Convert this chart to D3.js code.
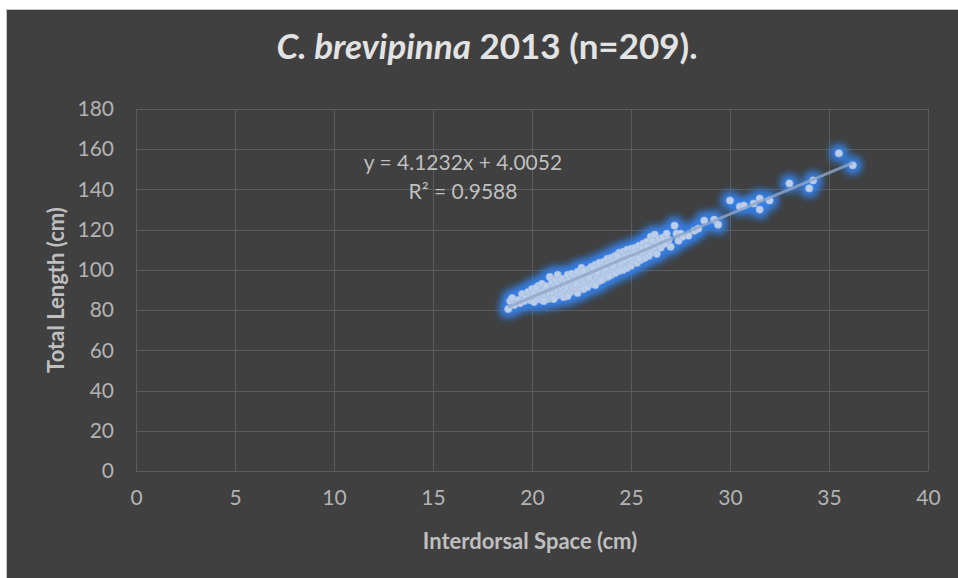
<!DOCTYPE html>
<html><head><meta charset="utf-8">
<script src="https://cdn.jsdelivr.net/npm/d3@7"></script>
<style>html,body{margin:0;padding:0;background:#fff;}svg{display:block;}</style>
</head><body>
<svg id="chart" width="958" height="578"></svg>
<script>
const titleItalic = "C. brevipinna";
const titleRest = " 2013 (n=209).";
const xAxisTitle = "Interdorsal Space (cm)";
const yAxisTitle = "Total Length (cm)";
const xTicks = [0, 5, 10, 15, 20, 25, 30, 35, 40];
const yTicks = [0, 20, 40, 60, 80, 100, 120, 140, 160, 180];
const trendSlope = 4.1232;
const trendIntercept = 4.0052;
const equationLines = ["y = 4.1232x + 4.0052", "R² = 0.9588"];
// [interdorsal space (cm), total length (cm)]
const measurements = [
[18.8,80.5],[18.9,84.5],[19.0,86.0],[19.1,82.5],[19.3,85.0],[19.4,83.5],[19.5,88.0],[19.6,84.5],[19.7,86.5],[19.8,89.0],
[19.9,85.0],[19.9,87.5],[20.0,90.5],[20.0,86.0],[20.1,84.0],[20.1,88.5],[20.2,86.5],[20.3,92.0],[20.3,85.5],[20.4,89.5],
[20.4,87.0],[20.5,93.0],[20.5,85.0],[20.6,88.0],[20.6,90.5],[20.7,86.5],[20.7,92.0],[20.8,89.0],[20.8,85.5],[20.9,96.5],
[20.9,88.0],[21.0,90.0],[21.0,86.0],[21.0,93.5],[21.1,88.5],[21.1,91.5],[21.2,87.0],[21.2,95.0],[21.3,89.5],[21.3,97.5],
[21.4,92.0],[21.4,87.5],[21.5,90.5],[21.5,95.5],[21.5,88.0],[21.6,92.5],[21.6,86.5],[21.7,94.0],[21.7,89.5],[21.8,97.5],
[21.8,91.0],[21.9,88.5],[21.9,95.0],[22.0,92.0],[22.0,98.0],[22.0,89.5],[22.1,94.5],[22.1,91.0],[22.2,96.5],[22.2,90.0],
[22.3,99.0],[22.3,93.5],[22.3,88.5],[22.4,95.5],[22.4,91.5],[22.5,101.0],[22.5,97.0],[22.5,93.0],[22.6,95.0],[22.6,90.5],
[22.7,98.5],[22.7,93.5],[22.8,100.0],[22.8,96.0],[22.8,91.5],[22.9,94.5],[22.9,98.0],[23.0,101.5],[23.0,96.5],[23.0,93.0],
[23.1,99.0],[23.1,94.5],[23.2,97.5],[23.2,102.5],[23.2,92.5],[23.3,100.5],[23.3,96.0],[23.4,98.5],[23.4,103.5],[23.4,94.5],
[23.5,101.0],[23.5,97.0],[23.6,99.5],[23.6,104.0],[23.6,95.5],[23.7,102.0],[23.7,98.0],[23.8,105.5],[23.8,100.5],[23.8,96.5],
[23.9,103.0],[23.9,99.0],[24.0,106.0],[24.0,101.5],[24.0,97.5],[24.1,104.0],[24.1,100.0],[24.2,107.0],[24.2,102.5],[24.2,98.5],
[24.3,105.0],[24.3,101.0],[24.4,108.5],[24.4,103.5],[24.4,99.5],[24.5,106.0],[24.5,101.5],[24.6,109.0],[24.6,104.5],[24.6,100.0],
[24.7,107.0],[24.7,102.5],[24.8,110.0],[24.8,105.0],[24.8,101.0],[24.9,108.0],[24.9,103.5],[25.0,110.5],[25.0,106.5],[25.0,102.0],
[25.1,108.5],[25.1,104.5],[25.2,111.0],[25.2,106.0],[25.3,109.0],[25.3,103.5],[25.4,112.0],[25.4,107.5],[25.5,110.0],[25.5,105.0],
[25.6,113.0],[25.6,108.0],[25.7,110.5],[25.7,106.0],[25.8,114.0],[25.8,109.0],[25.9,111.5],[25.9,107.0],[26.0,116.5],[26.0,112.5],
[26.0,108.5],[26.1,110.0],[26.1,114.5],[26.2,117.5],[26.2,111.5],[26.3,113.0],[26.3,108.0],[26.4,115.5],[26.5,111.0],[26.6,116.0],
[26.7,113.0],[26.8,118.0],[26.9,115.0],[27.0,111.5],[27.2,122.0],[27.3,118.0],[27.4,114.5],[27.5,118.0],[27.6,116.5],[27.9,117.0],
[28.2,119.5],[28.4,120.5],[28.7,124.5],[29.2,125.0],[29.4,122.5],[30.0,134.5],[30.5,131.5],[30.7,132.0],[31.2,133.0],[31.5,135.5],
[31.5,130.0],[32.0,134.5],[33.0,143.0],[34.0,140.5],[34.2,144.5],[35.5,158.0],[36.2,152.0],[20.2,91.0],[20.6,84.5],[21.1,85.5],
[21.3,92.5],[21.8,87.0],[22.2,93.0],[22.6,99.5],[22.9,96.0],[23.1,101.0],[23.3,98.5],[23.5,95.0],[23.7,100.5],[23.9,97.0],
[24.1,102.0],[24.3,107.0],[24.5,103.5],[24.7,105.0],[24.9,106.0],[25.2,108.5],[25.4,105.5],[25.6,110.5],[25.8,111.5]
];

const FONT = "Lato, 'Open Sans', sans-serif";
const svg = d3.select("#chart");
const W = 958, H = 578;
const plot = {left: 136, right: 928, top: 109, bottom: 471};

svg.append("rect").attr("x", 6.5).attr("y", 9.5).attr("width", W - 6).attr("height", H - 9)
  .attr("fill", "#404040").attr("stroke", "#c4c4c4").attr("stroke-width", 1);

const defs = svg.append("defs");
const f = defs.append("filter").attr("id", "glow").attr("x", "-15%").attr("y", "-15%").attr("width", "130%").attr("height", "130%");
f.append("feMorphology").attr("in", "SourceAlpha").attr("operator", "dilate").attr("radius", 2.5).attr("result", "d");
f.append("feGaussianBlur").attr("in", "d").attr("stdDeviation", 4.5).attr("result", "b");
f.append("feFlood").attr("flood-color", "#3580e6").attr("flood-opacity", 1);
f.append("feComposite").attr("in2", "b").attr("operator", "in").attr("result", "g");
const fm = f.append("feMerge");
fm.append("feMergeNode").attr("in", "g");
fm.append("feMergeNode").attr("in", "g");
fm.append("feMergeNode").attr("in", "SourceGraphic");

const x = d3.scaleLinear().domain([0, 40]).range([plot.left, plot.right]);
const y = d3.scaleLinear().domain([0, 180]).range([plot.bottom, plot.top]);

const gx = svg.append("g").attr("transform", `translate(0,${plot.bottom})`)
  .call(d3.axisBottom(x).tickValues(xTicks).tickSize(-(plot.bottom - plot.top)).tickFormat(d3.format("d")).tickPadding(19));
const gy = svg.append("g").attr("transform", `translate(${plot.left},0)`)
  .call(d3.axisLeft(y).tickValues(yTicks).tickSize(-(plot.right - plot.left)).tickFormat(d3.format("d")).tickPadding(22));
[gx, gy].forEach(g => {
  g.select(".domain").remove();
  g.selectAll(".tick line").attr("stroke", "#5c5c5c").attr("stroke-width", 1).attr("shape-rendering", "crispEdges");
  g.selectAll(".tick text").attr("fill", "#b3b3b3").style("font-family", FONT).style("font-size", "21px");
});

const pts = svg.append("g").attr("filter", "url(#glow)");
pts.selectAll("circle").data(measurements).join("circle")
  .attr("cx", d => x(d[0])).attr("cy", d => y(d[1])).attr("r", 3.6)
  .attr("fill", "#bccfea").attr("stroke", "#9fb8de").attr("stroke-width", 0.6);

const xMin = d3.min(measurements, d => d[0]), xMax = d3.max(measurements, d => d[0]);
svg.append("line")
  .attr("x1", x(xMin)).attr("y1", y(trendSlope * xMin + trendIntercept))
  .attr("x2", x(xMax)).attr("y2", y(trendSlope * xMax + trendIntercept))
  .attr("stroke", "#8ea6c8").attr("stroke-opacity", 0.8).attr("stroke-width", 3);

svg.append("text").attr("x", 463).attr("y", 170).attr("text-anchor", "middle")
  .attr("fill", "#bfbfbf").style("font-family", FONT).style("font-size", "21px").text(equationLines[0]);
svg.append("text").attr("x", 463).attr("y", 199).attr("text-anchor", "middle")
  .attr("fill", "#bfbfbf").style("font-family", FONT).style("font-size", "21px").text(equationLines[1]);

const t = svg.append("text").attr("x", 487).attr("y", 59).attr("text-anchor", "middle")
  .attr("fill", "#e3e3e3").style("font-family", FONT).style("font-size", "35px").style("font-weight", "bold");
t.append("tspan").style("font-style", "italic").text(titleItalic);
t.append("tspan").text(titleRest);

svg.append("text").attr("x", 530).attr("y", 549).attr("text-anchor", "middle")
  .attr("fill", "#bfbfbf").style("font-family", FONT).style("font-size", "22px").style("font-weight", "bold").text(xAxisTitle);
svg.append("text").attr("transform", "translate(64,290) rotate(-90)").attr("text-anchor", "middle")
  .attr("fill", "#bfbfbf").style("font-family", FONT).style("font-size", "22px").style("font-weight", "bold").text(yAxisTitle);
</script>
</body></html>
